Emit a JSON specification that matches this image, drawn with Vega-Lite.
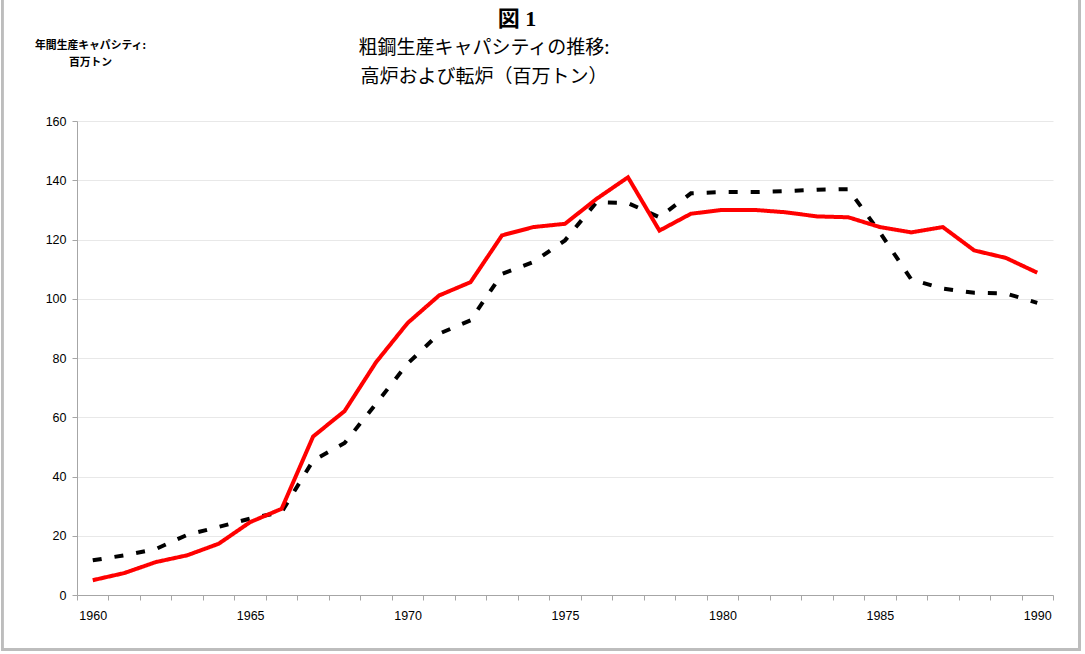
{
  "$schema": "https://vega.github.io/schema/vega-lite/v6.json",
  "width": 976,
  "height": 474,
  "autosize": {"type": "none"},
  "padding": {"left": 77, "top": 121, "right": 32, "bottom": 59},
  "background": "#ffffff",
  "config": {
    "view": {"stroke": null},
    "font": "Noto Sans CJK JP",
    "axis": {
      "labelFont": "Liberation Sans",
      "labelFontSize": 12.5,
      "labelColor": "#000000",
      "domainColor": "#a6a6a6",
      "tickColor": "#a6a6a6",
      "tickSize": 5
    }
  },
  "title": {
    "text": "\u200b\u3000\u3000\u3000図 1",
    "subtitle": ["粗鋼生産キャパシティの推移:", "高炉および転炉（百万トン）"],
    "anchor": "middle",
    "frame": "group",
    "dx": -81,
    "font": "Liberation Serif, Noto Sans CJK JP",
    "fontSize": 22,
    "fontWeight": "bold",
    "color": "#000000",
    "subtitleFont": "Noto Sans CJK JP",
    "subtitleFontSize": 19,
    "subtitleColor": "#000000",
    "subtitleLineHeight": 29,
    "subtitlePadding": 8,
    "offset": -91
  },
  "data": {
    "values": [
      {"year": 1960, "series": "系列2", "value": 11.7},
      {"year": 1961, "series": "系列2", "value": 13.4},
      {"year": 1962, "series": "系列2", "value": 15.5},
      {"year": 1963, "series": "系列2", "value": 20.3},
      {"year": 1964, "series": "系列2", "value": 23.0},
      {"year": 1965, "series": "系列2", "value": 25.8},
      {"year": 1966, "series": "系列2", "value": 28.0},
      {"year": 1967, "series": "系列2", "value": 45.4},
      {"year": 1968, "series": "系列2", "value": 51.3},
      {"year": 1969, "series": "系列2", "value": 64.6},
      {"year": 1970, "series": "系列2", "value": 78.1},
      {"year": 1971, "series": "系列2", "value": 88.2},
      {"year": 1972, "series": "系列2", "value": 92.7},
      {"year": 1973, "series": "系列2", "value": 108.4},
      {"year": 1974, "series": "系列2", "value": 112.4},
      {"year": 1975, "series": "系列2", "value": 119.7},
      {"year": 1976, "series": "系列2", "value": 132.6},
      {"year": 1977, "series": "系列2", "value": 132.3},
      {"year": 1978, "series": "系列2", "value": 127.5},
      {"year": 1979, "series": "系列2", "value": 135.6},
      {"year": 1980, "series": "系列2", "value": 136.0},
      {"year": 1981, "series": "系列2", "value": 136.0},
      {"year": 1982, "series": "系列2", "value": 136.3},
      {"year": 1983, "series": "系列2", "value": 136.8},
      {"year": 1984, "series": "系列2", "value": 137.0},
      {"year": 1985, "series": "系列2", "value": 122.4},
      {"year": 1986, "series": "系列2", "value": 106.5},
      {"year": 1987, "series": "系列2", "value": 103.4},
      {"year": 1988, "series": "系列2", "value": 102.0},
      {"year": 1989, "series": "系列2", "value": 101.8},
      {"year": 1990, "series": "系列2", "value": 98.6},
      {"year": 1960, "series": "系列1", "value": 5.0},
      {"year": 1961, "series": "系列1", "value": 7.4},
      {"year": 1962, "series": "系列1", "value": 11.1},
      {"year": 1963, "series": "系列1", "value": 13.4},
      {"year": 1964, "series": "系列1", "value": 17.3},
      {"year": 1965, "series": "系列1", "value": 24.6},
      {"year": 1966, "series": "系列1", "value": 29.1},
      {"year": 1967, "series": "系列1", "value": 53.5},
      {"year": 1968, "series": "系列1", "value": 62.1},
      {"year": 1969, "series": "系列1", "value": 78.6},
      {"year": 1970, "series": "系列1", "value": 91.8},
      {"year": 1971, "series": "系列1", "value": 101.1},
      {"year": 1972, "series": "系列1", "value": 105.6},
      {"year": 1973, "series": "系列1", "value": 121.4},
      {"year": 1974, "series": "系列1", "value": 124.2},
      {"year": 1975, "series": "系列1", "value": 125.3},
      {"year": 1976, "series": "系列1", "value": 133.7},
      {"year": 1977, "series": "系列1", "value": 141.0},
      {"year": 1978, "series": "系列1", "value": 123.0},
      {"year": 1979, "series": "系列1", "value": 128.7},
      {"year": 1980, "series": "系列1", "value": 130.0},
      {"year": 1981, "series": "系列1", "value": 130.0},
      {"year": 1982, "series": "系列1", "value": 129.2},
      {"year": 1983, "series": "系列1", "value": 127.8},
      {"year": 1984, "series": "系列1", "value": 127.5},
      {"year": 1985, "series": "系列1", "value": 124.2},
      {"year": 1986, "series": "系列1", "value": 122.4},
      {"year": 1987, "series": "系列1", "value": 124.2},
      {"year": 1988, "series": "系列1", "value": 116.3},
      {"year": 1989, "series": "系列1", "value": 113.8},
      {"year": 1990, "series": "系列1", "value": 108.8}
    ]
  },
  "layer": [
    {
      "mark": {"type": "rect", "fill": null, "stroke": "#bdbdbd", "strokeWidth": 2},
      "encoding": {
        "x": {"datum": 1957.12, "type": "quantitative"},
        "x2": {"datum": 1991.35},
        "y": {"datum": -18.3, "type": "quantitative"},
        "y2": {"datum": 201.5}
      }
    },
    {
      "mark": {"type": "line", "strokeWidth": 4, "strokeJoin": "miter", "strokeCap": "butt"},
      "encoding": {
        "x": {
          "field": "year",
          "type": "quantitative",
          "scale": {"domain": [1959.5, 1990.5], "nice": false, "zero": false},
          "axis": {
            "title": null,
            "grid": false,
            "tickCount": 40,
            "values": [1959.5, 1960.5, 1961.5, 1962.5, 1963.5, 1964.5, 1965.5, 1966.5, 1967.5, 1968.5, 1969.5, 1970.5, 1971.5, 1972.5, 1973.5, 1974.5, 1975.5, 1976.5, 1977.5, 1978.5, 1979.5, 1980.5, 1981.5, 1982.5, 1983.5, 1984.5, 1985.5, 1986.5, 1987.5, 1988.5, 1989.5, 1990.5],
            "labelExpr": "(datum.value + 0.5) % 5 === 0 ? format(datum.value + 0.5, 'd') : ''",
            "labelOffset": 15.75,
            "labelFlush": false,
            "labelOverlap": false,
            "labelPadding": 9
          }
        },
        "y": {
          "field": "value",
          "type": "quantitative",
          "scale": {"domain": [0, 160], "nice": false},
          "axis": {
            "values": [0, 20, 40, 60, 80, 100, 120, 140, 160],
            "grid": true,
            "gridColor": "#e8e8e8",
            "labelPadding": 6,
            "title": ["年間生産キャパシティ:", "百万トン"],
            "titleAngle": 0,
            "titleAlign": "center",
            "titleBaseline": "middle",
            "titleX": 13,
            "titleY": -76,
            "titleFont": "Noto Sans CJK JP",
            "titleFontSize": 10.8,
            "titleFontWeight": "bold",
            "titleLineHeight": 17,
            "titleColor": "#000000"
          }
        },
        "color": {
          "field": "series",
          "type": "nominal",
          "scale": {"domain": ["系列1", "系列2"], "range": ["#ff0000", "#000000"]},
          "legend": null
        },
        "strokeDash": {
          "field": "series",
          "type": "nominal",
          "scale": {"domain": ["系列1", "系列2"], "range": [[1, 0], [9, 13]]},
          "legend": null
        }
      }
    }
  ]
}
